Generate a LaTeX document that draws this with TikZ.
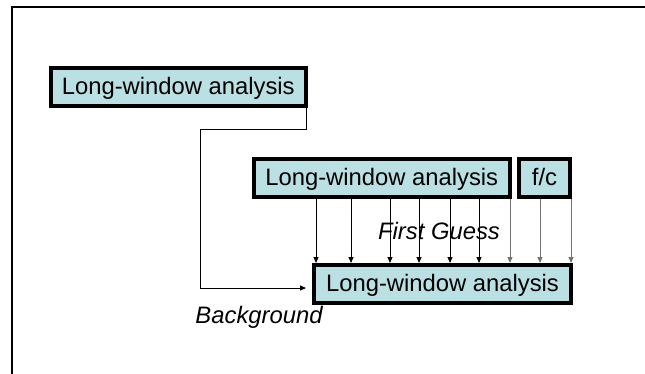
\documentclass[tikz,border=0pt]{standalone}
\usepackage{fontspec}
\setmainfont{Liberation Sans}
\usetikzlibrary{arrows.meta}
\definecolor{boxfill}{RGB}{187,224,227}
\begin{document}
\begin{tikzpicture}[x=1pt,y=-1pt,
  anbox/.style={draw=black, line width=4pt, fill=boxfill, inner sep=0pt, outer sep=0pt,
    minimum height=38pt, text height=17pt, text depth=2pt, font=\fontsize{23.8}{28}\selectfont},
  conn/.style={line width=0.9pt, -{Triangle[length=6pt,width=5pt]}},
  lbl/.style={font=\fontsize{23.8}{28}\selectfont\itshape, inner sep=0pt, anchor=base}
]
\useasboundingbox (0,0) rectangle (645,374);
% frame
\draw[line width=2pt] (12.3,374) -- (12.3,7.3) -- (645,7.3);
% boxes
\node[anbox, minimum width=255.5pt] (box1) at (178.25,87.5) {Long-window analysis};
\node[anbox, minimum width=255.5pt] (box2) at (381.75,178) {Long-window analysis};
\node[anbox, minimum width=51pt] (fc) at (544.5,178) {f/c};
\node[anbox, minimum width=257pt] (box3) at (442.5,284) {Long-window analysis};
% background connector
\coordinate (k1) at (200,129);
\draw[conn, shorten >=8pt] (box1.south east) |- (k1) |- ([yshift=-4pt]box3.west);
% first guess arrows
\foreach \x in {316,351,390,419,450,479} {
  \draw[conn, shorten <=2pt, shorten >=2pt] (\x,0 |- box2.south) -- (\x,0 |- box3.north);
}
\draw[conn, draw=black!55, fill=black, shorten <=2pt, shorten >=2pt] (510,0 |- box2.south) -- (510,0 |- box3.north);
\foreach \x in {540,571} {
  \draw[conn, draw=black!55, fill=black, shorten <=2pt, shorten >=2pt] (\x,0 |- fc.south) -- (\x,0 |- box3.north);
}
% labels
\node[lbl] (fg) at (439,239) {First Guess};
\node[lbl] (bg) at (259,323) {Background};
\end{tikzpicture}
\end{document}
